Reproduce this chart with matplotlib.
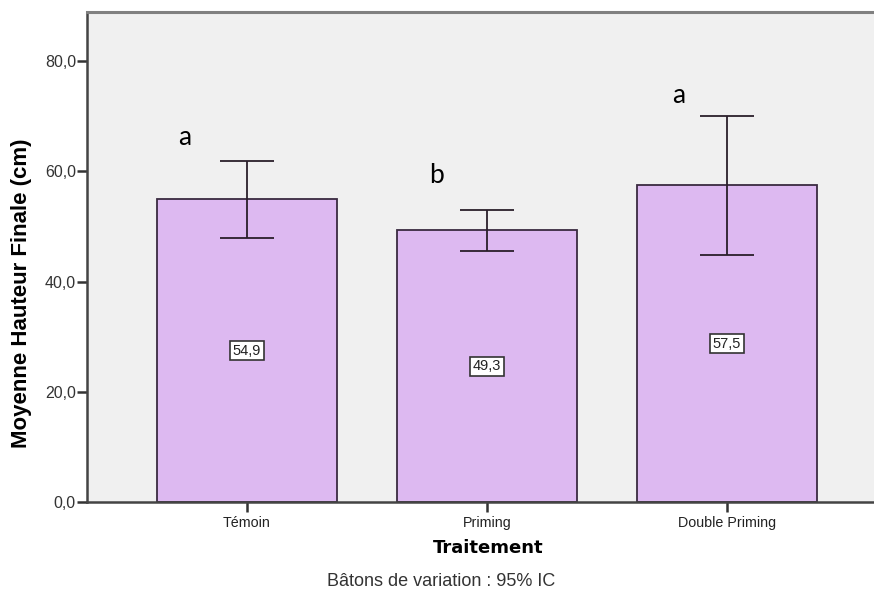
import matplotlib
matplotlib.use("Agg")
import matplotlib.pyplot as plt
import numpy as np

categories = ["Témoin", "Priming", "Double Priming"]
means = [54.9, 49.3, 57.5]
ci_low = [47.9, 45.6, 44.9]
ci_high = [61.9, 53.0, 70.1]
letters = ["a", "b", "a"]
letter_y = [66.2, 59.3, 73.8]
letter_dx = [-0.26, -0.21, -0.20]
value_labels = ["54,9", "49,3", "57,5"]
yticks = [0, 20, 40, 60, 80]
ytick_labels = ["0,0", "20,0", "40,0", "60,0", "80,0"]

W, H = 874, 594
fig = plt.figure(figsize=(W / 100, H / 100), dpi=100)
fig.patch.set_facecolor("white")
ax = fig.add_axes([87 / W, 1 - 502 / H, 800 / W, 490 / H])
ax.set_facecolor("#F0F0F0")

x = np.arange(len(categories))
ax.bar(x, means, width=0.75, color="#DDB9F1", edgecolor="#3A2A40", linewidth=1.3, zorder=2)
m = np.array(means)
yerr = np.vstack([m - np.array(ci_low), np.array(ci_high) - m])
ax.errorbar(x, means, yerr=yerr, fmt="none", ecolor="#2A1F2A", elinewidth=1.3,
            capsize=19.4, capthick=1.3, zorder=3)

for xi, v, lab in zip(x, means, value_labels):
    ax.text(xi, v / 2, lab, ha="center", va="center", fontsize=10.5, color="#222222",
            family="Liberation Sans",
            bbox=dict(boxstyle="square,pad=0.18", facecolor="white", edgecolor="#333333", linewidth=1.2),
            zorder=4)

for xi, ly, dx, lt in zip(x, letter_y, letter_dx, letters):
    ax.text(xi + dx, ly, lt, ha="center", va="center", fontsize=19, color="black",
            family="Lato", zorder=4)

ax.set_xlim(-0.6667, 2.6667)
ax.set_ylim(0, 88.9)
ax.set_xticks(x)
ax.set_xticklabels(categories, fontsize=10.3, family="Liberation Sans", color="#222222")
ax.set_yticks(yticks)
ax.set_yticklabels(ytick_labels, fontsize=11.5, family="Liberation Sans", color="#333333")
ax.tick_params(axis="both", length=7, width=1.8, color="#333333")
ax.tick_params(axis="x", pad=3)
ax.tick_params(axis="y", pad=1)

for side in ["left", "bottom"]:
    ax.spines[side].set_color("#444444")
    ax.spines[side].set_linewidth(1.8)
ax.spines["top"].set_color("#808080")
ax.spines["top"].set_linewidth(2.2)
ax.spines["right"].set_visible(False)

fig.text(22 / W, 1 - 293 / H, "Moyenne Hauteur Finale (cm)", rotation=90, ha="center",
         va="center", fontsize=16, fontweight="bold", family="Liberation Sans")
fig.text(488 / W, 1 - 548 / H, "Traitement", ha="center", va="center", fontsize=13,
         fontweight="bold", family="DejaVu Sans")
fig.text(441 / W, 1 - 582 / H, "Bâtons de variation : 95% IC", ha="center", va="center",
         fontsize=13, family="Liberation Sans", color="#333333")

fig.savefig("out.png", dpi=100, facecolor="white")
